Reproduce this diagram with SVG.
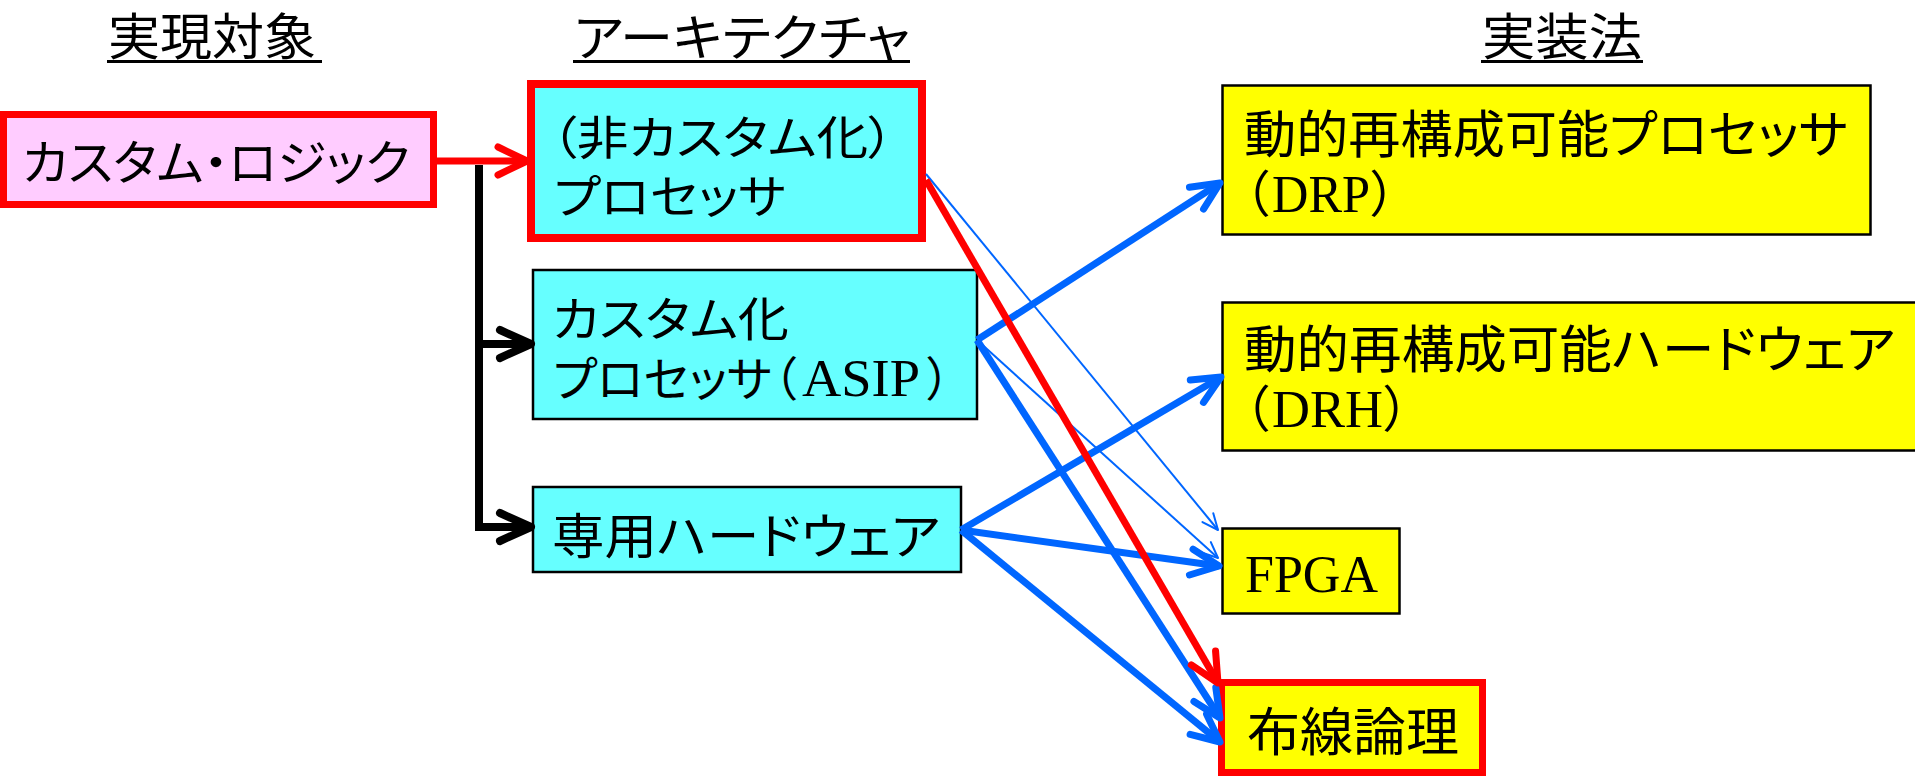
<svg xmlns="http://www.w3.org/2000/svg" width="1915" height="777" viewBox="0 0 1915 777">
<style>
.jp{font-family:"Noto Sans CJK JP","Noto Sans CJK SC",sans-serif;font-feature-settings:"palt";fill:#000}
.lat{font-family:"Liberation Serif",serif;fill:#000}
.box{stroke:#000;stroke-width:2.5}
.hl{stroke:#FF0000;stroke-width:7}
.pink{fill:#FFCCFF}
.cyan{fill:#66FFFF}
.yel{fill:#FFFF00}
.ul{stroke:#000;stroke-width:3}
.blk{fill:none;stroke:#000;stroke-width:8}
.red{fill:none;stroke:#FF0000;stroke-width:7}
.bt{fill:none;stroke:#0066FF;stroke-width:7}
.bn{fill:none;stroke:#0066FF;stroke-width:2}
</style>
<defs>
<marker id="ahBlack" markerUnits="userSpaceOnUse" viewBox="-40 -30 60 60" markerWidth="60" markerHeight="60" refX="0" refY="0" orient="auto" overflow="visible">
<path d="M-31,-14 L0,0 L-31,14" fill="none" stroke="#000" stroke-width="8" stroke-linecap="round" stroke-linejoin="round"/>
</marker>
<marker id="ahRed" markerUnits="userSpaceOnUse" viewBox="-40 -30 60 60" markerWidth="60" markerHeight="60" refX="0" refY="0" orient="auto" overflow="visible">
<path d="M-29,-14 L0,0 L-29,14" fill="none" stroke="#FF0000" stroke-width="7" stroke-linecap="round" stroke-linejoin="round"/>
</marker>
<marker id="ahBlue" markerUnits="userSpaceOnUse" viewBox="-40 -30 60 60" markerWidth="60" markerHeight="60" refX="0" refY="0" orient="auto" overflow="visible">
<path d="M-28,-13 L0,0 L-28,13" fill="none" stroke="#0066FF" stroke-width="7" stroke-linecap="round" stroke-linejoin="round"/>
</marker>
<marker id="ahBlueThin" markerUnits="userSpaceOnUse" viewBox="-40 -30 60 60" markerWidth="60" markerHeight="60" refX="0" refY="0" orient="auto" overflow="visible">
<path d="M-16,-7 L0,0 L-16,7" fill="none" stroke="#0066FF" stroke-width="2" stroke-linecap="round" stroke-linejoin="round"/>
</marker>
</defs>
<rect width="1915" height="777" fill="#FFFFFF"/>

<g id="headings">
<text class="jp" x="108" y="55" font-size="50" textLength="208" lengthAdjust="spacingAndGlyphs">実現対象</text>
<line class="ul" x1="107" y1="61.5" x2="322" y2="61.5"/>
<text class="jp" x="574" y="56" font-size="50" textLength="336" lengthAdjust="spacingAndGlyphs">アーキテクチャ</text>
<line class="ul" x1="573" y1="61.5" x2="910" y2="61.5"/>
<text class="jp" x="1482" y="55" font-size="50" textLength="160" lengthAdjust="spacingAndGlyphs">実装法</text>
<line class="ul" x1="1481" y1="61.5" x2="1643" y2="61.5"/>
</g>

<g id="node-custom-logic">
<rect class="pink hl" x="3.5" y="114.5" width="430" height="90"/>
<text class="jp" x="22" y="180" font-size="48" textLength="388" lengthAdjust="spacingAndGlyphs">カスタム・ロジック</text>
</g>

<g id="node-noncustom-processor">
<rect class="cyan" x="531" y="84" width="391" height="154" stroke="#FF0000" stroke-width="8"/>
<text class="jp" x="551" y="154" font-size="46" textLength="343" lengthAdjust="spacingAndGlyphs">（非カスタム化）</text>
<text class="jp" x="554" y="213" font-size="46" textLength="232" lengthAdjust="spacingAndGlyphs">プロセッサ</text>
</g>

<g id="node-asip">
<rect class="cyan box" x="533" y="270" width="444" height="149"/>
<text class="jp" x="552" y="336" font-size="47" textLength="237" lengthAdjust="spacingAndGlyphs">カスタム化</text>
<text class="jp" y="396" font-size="47"><tspan x="553" textLength="219" lengthAdjust="spacingAndGlyphs">プロセッサ</tspan><tspan x="773">（</tspan><tspan class="lat" x="802" font-size="52" textLength="118" lengthAdjust="spacingAndGlyphs">ASIP</tspan><tspan x="927">）</tspan></text>
</g>

<g id="node-dedicated-hw">
<rect class="cyan box" x="533" y="487" width="428" height="85"/>
<text class="jp" x="552" y="554" font-size="49" textLength="388" lengthAdjust="spacingAndGlyphs">専用ハードウェア</text>
</g>

<g id="node-drp">
<rect class="yel box" x="1222.5" y="85.5" width="648" height="149"/>
<text class="jp" x="1244" y="153" font-size="51" textLength="604" lengthAdjust="spacingAndGlyphs">動的再構成可能プロセッサ</text>
<text class="jp" y="212" font-size="50"><tspan x="1244">（</tspan><tspan class="lat" x="1272" font-size="52" textLength="98" lengthAdjust="spacingAndGlyphs">DRP</tspan><tspan x="1371">）</tspan></text>
</g>

<g id="node-drh">
<rect class="yel box" x="1222.5" y="302.5" width="700" height="148"/>
<text class="jp" x="1244" y="368" font-size="51" textLength="651" lengthAdjust="spacingAndGlyphs">動的再構成可能ハードウェア</text>
<text class="jp" y="427" font-size="50"><tspan x="1244">（</tspan><tspan class="lat" x="1272" font-size="52" textLength="111" lengthAdjust="spacingAndGlyphs">DRH</tspan><tspan x="1384">）</tspan></text>
</g>

<g id="node-fpga">
<rect class="yel box" x="1222.5" y="528.5" width="177" height="85"/>
<text class="lat" x="1245" y="592" font-size="53" textLength="133" lengthAdjust="spacingAndGlyphs">FPGA</text>
</g>

<g id="node-wired-logic">
<rect class="yel hl" x="1221.5" y="682.5" width="261" height="90"/>
<text class="jp" x="1247" y="751" font-size="52" textLength="212" lengthAdjust="spacingAndGlyphs">布線論理</text>
</g>

<g id="connectors">
<path class="blk" d="M479,165 V527 H531" marker-end="url(#ahBlack)"/>
<path class="blk" d="M479,344 H531" marker-end="url(#ahBlack)"/>
<line class="red" x1="437" y1="161" x2="527" y2="161" marker-end="url(#ahRed)"/>
<line class="bn" x1="926" y1="174" x2="1218" y2="530" marker-end="url(#ahBlueThin)"/>
<line class="bn" x1="977" y1="340" x2="1218" y2="558" marker-end="url(#ahBlueThin)"/>
<line class="bt" x1="977" y1="340" x2="1220" y2="183" marker-end="url(#ahBlue)"/>
<line class="bt" x1="977" y1="340" x2="1220" y2="718" marker-end="url(#ahBlue)"/>
<line class="bt" x1="961" y1="530" x2="1221" y2="377" marker-end="url(#ahBlue)"/>
<line class="bt" x1="961" y1="530" x2="1219" y2="566" marker-end="url(#ahBlue)"/>
<line class="bt" x1="961" y1="530" x2="1220" y2="742" marker-end="url(#ahBlue)"/>
<line class="red" x1="926" y1="180" x2="1218" y2="683" marker-end="url(#ahRed)"/>
</g>
</svg>
